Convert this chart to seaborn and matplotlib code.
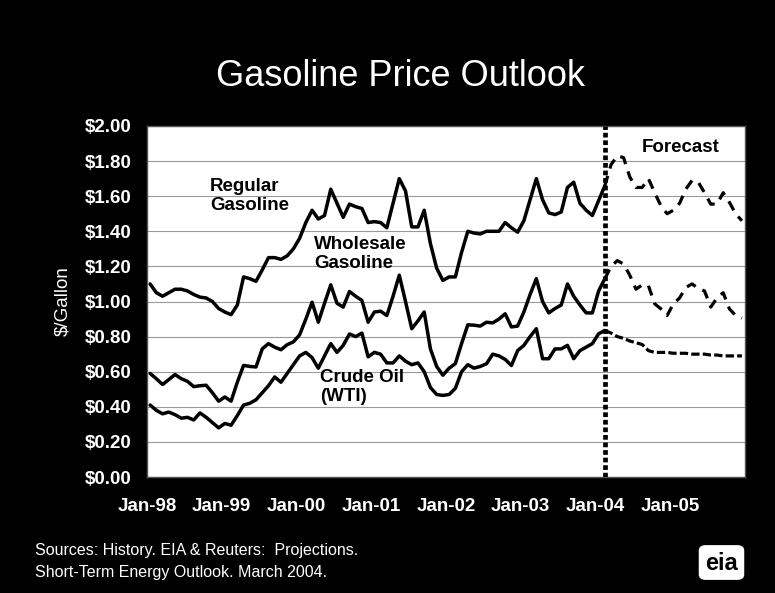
import numpy as np
import pandas as pd
import matplotlib
matplotlib.use("Agg")
import matplotlib.pyplot as plt
import seaborn as sns
from matplotlib.patches import FancyBboxPatch

# Monthly prices, $/gallon. History runs Jan-98 .. Feb-04, projections Feb-04 .. Dec-05.
regular_hist = [1.10, 1.05, 1.03, 1.05, 1.07, 1.07, 1.06, 1.04, 1.025, 1.02,
                1.00, 0.96, 0.94, 0.925, 0.98, 1.14, 1.13, 1.115, 1.18, 1.25,
                1.25, 1.24, 1.26, 1.30, 1.36, 1.45, 1.52, 1.47, 1.49, 1.64,
                1.56, 1.48, 1.555, 1.54, 1.53, 1.45, 1.455, 1.45, 1.42, 1.56,
                1.70, 1.63, 1.425, 1.425, 1.52, 1.33, 1.19, 1.12, 1.14, 1.14,
                1.28, 1.40, 1.39, 1.385, 1.40, 1.40, 1.40, 1.45, 1.42, 1.395,
                1.46, 1.58, 1.70, 1.58, 1.505, 1.495, 1.51, 1.65, 1.68, 1.56,
                1.52, 1.49, 1.575, 1.66]
wholesale_hist = [0.59, 0.56, 0.527, 0.555, 0.584, 0.56, 0.545, 0.515, 0.52, 0.523,
                  0.48, 0.432, 0.456, 0.432, 0.54, 0.636, 0.63, 0.627, 0.73, 0.76,
                  0.74, 0.725, 0.754, 0.77, 0.81, 0.90, 0.996, 0.882, 0.99, 1.095,
                  0.99, 0.968, 1.057, 1.03, 1.006, 0.882, 0.94, 0.945, 0.92, 1.03,
                  1.15, 1.00, 0.845, 0.89, 0.94, 0.73, 0.63, 0.58, 0.62, 0.646,
                  0.76, 0.867, 0.865, 0.86, 0.882, 0.878, 0.90, 0.93, 0.855, 0.86,
                  0.94, 1.04, 1.13, 1.00, 0.935, 0.96, 0.98, 1.10, 1.03, 0.98,
                  0.935, 0.935, 1.06, 1.13]
crude_hist = [0.41, 0.38, 0.36, 0.37, 0.355, 0.335, 0.34, 0.325, 0.365, 0.34,
              0.31, 0.28, 0.305, 0.295, 0.35, 0.41, 0.42, 0.44, 0.48, 0.52,
              0.57, 0.54, 0.59, 0.64, 0.69, 0.71, 0.68, 0.62, 0.69, 0.76,
              0.71, 0.75, 0.815, 0.80, 0.82, 0.685, 0.71, 0.70, 0.65, 0.65,
              0.69, 0.66, 0.64, 0.65, 0.60, 0.51, 0.47, 0.465, 0.47, 0.505,
              0.60, 0.64, 0.62, 0.63, 0.645, 0.70, 0.69, 0.67, 0.635, 0.72,
              0.75, 0.80, 0.845, 0.674, 0.674, 0.73, 0.73, 0.75, 0.674, 0.72,
              0.74, 0.76, 0.816, 0.835]

regular_fcst = [1.66, 1.78, 1.83, 1.82, 1.71, 1.65, 1.65, 1.70, 1.62, 1.545,
                1.50, 1.52, 1.56, 1.64, 1.69, 1.68, 1.62, 1.555, 1.555, 1.62,
                1.565, 1.50, 1.46]
wholesale_fcst = [1.13, 1.20, 1.233, 1.214, 1.15, 1.07, 1.095, 1.09, 0.987, 0.958,
                  0.92, 0.987, 1.02, 1.08, 1.10, 1.075, 1.06, 0.968, 1.02, 1.05,
                  0.958, 0.92, 0.905]
crude_fcst = [0.835, 0.82, 0.80, 0.79, 0.775, 0.765, 0.755, 0.72, 0.71, 0.71,
              0.71, 0.705, 0.705, 0.705, 0.70, 0.70, 0.70, 0.695, 0.695, 0.69,
              0.69, 0.69, 0.69]

year_labels = ["Jan-98", "Jan-99", "Jan-00", "Jan-01", "Jan-02", "Jan-03", "Jan-04", "Jan-05"]
y_ticks = [0.0, 0.2, 0.4, 0.6, 0.8, 1.0, 1.2, 1.4, 1.6, 1.8, 2.0]

# month index; each point sits in the middle of its month slot
n_hist = len(regular_hist)
x_hist = np.arange(n_hist) + 0.5
x_fcst = np.arange(n_hist - 1, n_hist - 1 + len(regular_fcst)) + 0.5

hist = pd.DataFrame({"month": x_hist, "Regular": regular_hist,
                     "Wholesale": wholesale_hist, "Crude": crude_hist})
fcst = pd.DataFrame({"month": x_fcst, "Regular": regular_fcst,
                     "Wholesale": wholesale_fcst, "Crude": crude_fcst})

sns.set_theme(style="white")
plt.rcParams["font.family"] = ["Liberation Sans", "DejaVu Sans"]

W, H = 775, 593
fig = plt.figure(figsize=(W / 100, H / 100), dpi=100, facecolor="black")
ax = fig.add_axes([147 / W, 1 - 477 / H, (745 - 147) / W, (477 - 126) / H])
ax.set_facecolor("white")

for col in ["Regular", "Wholesale", "Crude"]:
    sns.lineplot(data=hist, x="month", y=col, ax=ax, color="black", lw=2.5)
for col, dash in [("Regular", (3.2, 2.4)), ("Wholesale", (3.2, 2.4)), ("Crude", (2.6, 1.0))]:
    sns.lineplot(data=fcst, x="month", y=col, ax=ax, color="black", lw=2.3,
                 linestyle=(0, dash))

# boundary between history and projections
ax.axvline(x_hist[-1], color="black", lw=3.4, linestyle=(0, (1.0, 0.6)),
           dash_capstyle="butt", zorder=3)

ax.set_xlim(0, 96)
ax.set_ylim(0, 2.0)
ax.set_yticks(y_ticks)
ax.set_yticklabels([f"\\${v:.2f}" for v in y_ticks])
ax.set_xticks(np.arange(0, 97, 12))
ax.set_xticklabels(year_labels + [""])
ax.yaxis.grid(True, color="#9a9a9a", lw=0.8)
ax.xaxis.grid(False)
ax.set_axisbelow(True)
for s in ax.spines.values():
    s.set_color("#555555")
    s.set_linewidth(1.0)
ax.tick_params(axis="both", colors="white", length=5, width=1.0, direction="out",
               labelsize=13.5, pad=6)
for lab in ax.get_xticklabels() + ax.get_yticklabels():
    lab.set_fontweight("bold")
    lab.set_color("white")
ax.tick_params(axis="x", pad=10)
ax.set_xlabel("")
ax.set_ylabel("\\$/Gallon", color="white", fontsize=13.5, labelpad=10)

lab_kw = dict(color="black", fontsize=13.5, fontweight="bold", linespacing=1.15)
ax.text(10.1, 1.60, "Regular\nGasoline", ha="left", va="center", **lab_kw)
ax.text(26.8, 1.27, "Wholesale\nGasoline", ha="left", va="center", **lab_kw)
ax.text(27.8, 0.515, "Crude Oil\n(WTI)", ha="left", va="center", **lab_kw)
ax.text(85.6, 1.88, "Forecast", ha="center", va="center", **lab_kw)

fig.text(400 / W, 1 - 77 / H, "Gasoline Price Outlook", color="white",
         fontsize=26, ha="center", va="center")
fig.text(35 / W, 1 - 551 / H, "Sources: History. EIA & Reuters:  Projections.",
         color="white", fontsize=11.5, ha="left", va="center")
fig.text(35 / W, 1 - 572 / H, "Short-Term Energy Outlook. March 2004.",
         color="white", fontsize=11.5, ha="left", va="center")

# EIA badge
badge = FancyBboxPatch((701 / W, 1 - 578 / H), 41 / W, 31 / H,
                       boxstyle="round,pad=0.002,rounding_size=0.008",
                       transform=fig.transFigure, facecolor="white",
                       edgecolor="white", lw=1)
fig.patches.append(badge)
fig.text(721.5 / W, 1 - 563 / H, "eia", color="black", fontsize=17,
         fontweight="bold", ha="center", va="center")

fig.savefig("out.png", dpi=100, facecolor="black")
